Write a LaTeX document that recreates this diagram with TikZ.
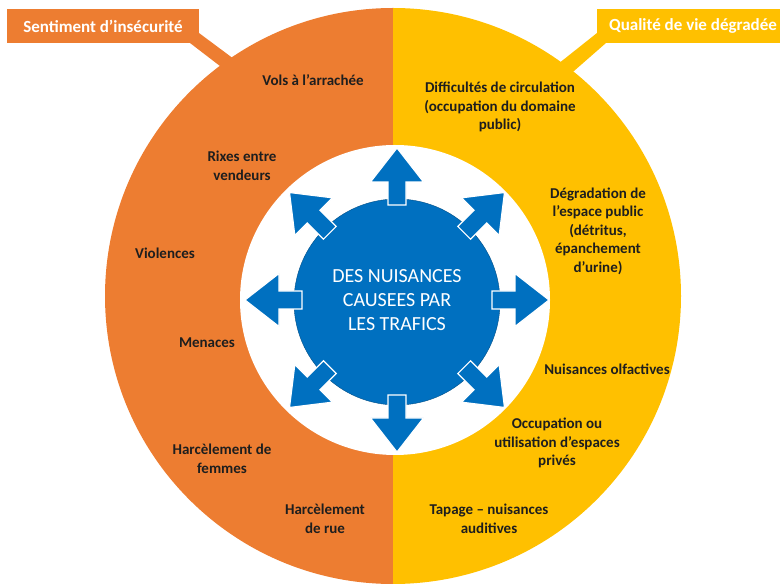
\documentclass[tikz,border=0pt]{standalone}
\usepackage{fontspec}
\setmainfont{Carlito}
\definecolor{orangeA}{RGB}{237,125,49}
\definecolor{jauneA}{RGB}{255,192,0}
\definecolor{bleuA}{RGB}{0,112,192}
\definecolor{texteA}{RGB}{30,30,30}
\tikzset{
  etiquette/.style={align=center, text=texteA, font=\bfseries\fontsize{15}{18.5}\selectfont},
  titre/.style={text=white, font=\bfseries\fontsize{17}{20}\selectfont},
  fleche/.style={fill=bleuA, draw=white, line width=1.2pt, line join=miter}
}
\begin{document}
\begin{tikzpicture}[x=1pt, y=1pt]
            \useasboundingbox (0,0) rectangle (780,587);
            % les deux moities du grand disque
            \fill[orangeA] (393,291) ++(90:288) arc[start angle=90, end angle=270, radius=288] -- cycle;
            \fill[jauneA] (393,291) ++(90:288) arc[start angle=90, end angle=-90, radius=288] -- cycle;
            % cartouches
            \fill[orangeA] (7,544) rectangle (199,578);
            \fill[orangeA] (199,554) -- (246,519) -- (233,511) -- (190,544) -- cycle;
            \fill[jauneA] (597,544) rectangle (780,578);
            \fill[jauneA] (597,554) -- (553,519) -- (566,509) -- (606,544) -- cycle;
            \node[titre] (insecurite) at (103,561) {Sentiment d’insécurité};
            \node[titre] (qualite) at (693,561) {Qualité de vie dégradée};
            % disque blanc et disque bleu
            \fill[white] (395,287) circle (155);
            \draw[fill=bleuA, draw=bleuA!70!black, line width=0.4pt] (397,285) circle (103);
            % fleches
            \draw[fleche, shift={(397,287)}, rotate=0] (95,-9) -- (118,-9) -- (118,-26.5) -- (152,0) -- (118,26.5) -- (118,9) -- (95,9) -- cycle;
            \draw[fleche, shift={(397,287)}, rotate=45] (95,-9) -- (118,-9) -- (118,-26.5) -- (152,0) -- (118,26.5) -- (118,9) -- (95,9) -- cycle;
            \draw[fleche, shift={(397,287)}, rotate=90] (95,-9) -- (118,-9) -- (118,-26.5) -- (152,0) -- (118,26.5) -- (118,9) -- (95,9) -- cycle;
            \draw[fleche, shift={(397,287)}, rotate=135] (95,-9) -- (118,-9) -- (118,-26.5) -- (152,0) -- (118,26.5) -- (118,9) -- (95,9) -- cycle;
            \draw[fleche, shift={(397,287)}, rotate=180] (95,-9) -- (118,-9) -- (118,-26.5) -- (152,0) -- (118,26.5) -- (118,9) -- (95,9) -- cycle;
            \draw[fleche, shift={(397,287)}, rotate=225] (95,-9) -- (118,-9) -- (118,-26.5) -- (152,0) -- (118,26.5) -- (118,9) -- (95,9) -- cycle;
            \draw[fleche, shift={(397,287)}, rotate=270] (95,-9) -- (118,-9) -- (118,-26.5) -- (152,0) -- (118,26.5) -- (118,9) -- (95,9) -- cycle;
            \draw[fleche, shift={(397,287)}, rotate=315] (95,-9) -- (118,-9) -- (118,-26.5) -- (152,0) -- (118,26.5) -- (118,9) -- (95,9) -- cycle;
            \node[align=center, text=white, font=\fontsize{20}{24}\selectfont] (centre) at (397,287) {DES NUISANCES\\CAUSEES PAR\\LES TRAFICS};
            % sentiment d'insecurite
            \node[etiquette] (vols) at (313,507) {Vols à l’arrachée};
            \node[etiquette] (rixes) at (242,421) {Rixes entre\\vendeurs};
            \node[etiquette] (violences) at (165,334) {Violences};
            \node[etiquette] (menaces) at (207,244) {Menaces};
            \node[etiquette] (harcfemmes) at (222,128) {Harcèlement de\\femmes};
            \node[etiquette] (harcrue) at (325,68) {Harcèlement\\de rue};
            % qualite de vie degradee
            \node[etiquette] (circulation) at (500,480) {Difficultés de circulation\\(occupation du domaine\\public)};
            \node[etiquette] (degradation) at (598,356) {Dégradation de\\l’espace public\\(détritus,\\épanchement\\d’urine)};
            \node[etiquette] (olfactives) at (607,218) {Nuisances olfactives};
            \node[etiquette] (occupation) at (557,144) {Occupation ou\\utilisation d’espaces\\privés};
            \node[etiquette] (tapage) at (489,68) {Tapage – nuisances\\auditives};
        \end{tikzpicture}
\end{document}
